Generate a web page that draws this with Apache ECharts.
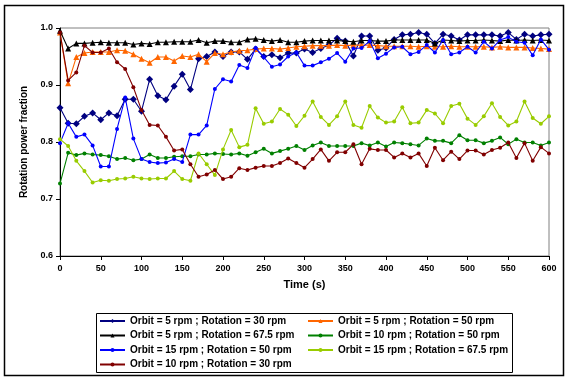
<!DOCTYPE html>
<html>
<head>
<meta charset="utf-8">
<script src="https://cdn.jsdelivr.net/npm/echarts@6/dist/echarts.min.js"></script>
<style>
html,body{margin:0;padding:0;background:#fff;}
#chart{width:566px;height:379px;}
</style>
</head>
<body>
<div id="chart"></div>
<script>
var times = [0,10,20,30,40,50,60,70,80,90,100,110,120,130,140,150,160,170,180,190,200,210,220,230,240,250,260,270,280,290,300,310,320,330,340,350,360,370,380,390,400,410,420,430,440,450,460,470,480,490,500,510,520,530,540,550,560,570,580,590,600];

var yTicks = [0.6, 0.7, 0.8, 0.9, 1.0];
var xTicks = [0, 50, 100, 150, 200, 250, 300, 350, 400, 450, 500, 550, 600];

var seriesNames = [
  "Orbit = 5 rpm ; Rotation = 30 rpm",
  "Orbit = 5 rpm ; Rotation = 50 rpm",
  "Orbit = 5 rpm ; Rotation = 67.5 rpm",
  "Orbit = 10 rpm ; Rotation = 50 rpm",
  "Orbit = 15 rpm ; Rotation = 50 rpm",
  "Orbit = 15 rpm ; Rotation = 67.5 rpm",
  "Orbit = 10 rpm ; Rotation = 30 rpm"
];

var o5r30 = [0.860,0.833,0.832,0.845,0.851,0.839,0.851,0.846,0.875,0.875,
  0.854,0.910,0.881,0.874,0.898,0.919,0.892,0.946,0.950,0.958,
  0.950,0.958,0.958,0.945,0.963,0.950,0.953,0.948,0.956,0.956,
  0.963,0.957,0.964,0.970,0.982,0.977,0.951,0.986,0.986,0.961,
  0.965,0.980,0.988,0.989,0.992,0.989,0.973,0.989,0.986,0.979,
  0.988,0.988,0.988,0.988,0.986,0.992,0.980,0.989,0.986,0.988,0.989];

var o5r50 = [0.992,0.903,0.949,0.956,0.958,0.958,0.958,0.961,0.960,0.954,
  0.946,0.939,0.949,0.949,0.942,0.951,0.949,0.954,0.941,0.956,
  0.954,0.958,0.960,0.961,0.963,0.964,0.964,0.963,0.965,0.967,
  0.968,0.969,0.969,0.969,0.970,0.969,0.970,0.970,0.970,0.969,
  0.968,0.968,0.968,0.968,0.967,0.968,0.967,0.967,0.968,0.967,
  0.967,0.967,0.967,0.966,0.967,0.966,0.966,0.966,0.965,0.964,0.963];

var o5r675 = [0.995,0.964,0.973,0.973,0.974,0.975,0.974,0.974,0.974,0.971,
  0.973,0.972,0.975,0.975,0.976,0.976,0.976,0.979,0.974,0.977,
  0.977,0.975,0.975,0.980,0.981,0.979,0.977,0.979,0.975,0.975,
  0.977,0.978,0.978,0.978,0.978,0.977,0.976,0.978,0.978,0.977,
  0.977,0.979,0.979,0.979,0.979,0.979,0.973,0.979,0.978,0.977,
  0.978,0.978,0.979,0.978,0.977,0.979,0.978,0.979,0.978,0.979,0.978];

var o10r50 = [0.727,0.781,0.777,0.780,0.778,0.777,0.775,0.770,0.772,0.768,
  0.770,0.778,0.772,0.772,0.774,0.775,0.775,0.778,0.778,0.780,
  0.779,0.778,0.780,0.776,0.782,0.788,0.780,0.784,0.788,0.793,
  0.786,0.794,0.799,0.793,0.793,0.793,0.793,0.798,0.794,0.799,
  0.792,0.799,0.798,0.796,0.794,0.806,0.802,0.802,0.798,0.812,
  0.803,0.803,0.798,0.802,0.808,0.796,0.805,0.799,0.799,0.794,0.799];

var o15r50 = [0.798,0.833,0.809,0.813,0.794,0.757,0.757,0.823,0.878,0.806,
  0.770,0.765,0.763,0.764,0.770,0.765,0.813,0.813,0.829,0.893,
  0.910,0.906,0.935,0.930,0.965,0.949,0.932,0.936,0.950,0.957,
  0.934,0.934,0.940,0.946,0.956,0.941,0.964,0.965,0.977,0.947,
  0.955,0.966,0.967,0.954,0.958,0.970,0.957,0.979,0.954,0.957,
  0.967,0.957,0.976,0.964,0.979,0.984,0.976,0.974,0.952,0.980,0.962];

var o15r675 = [0.805,0.793,0.767,0.749,0.729,0.733,0.732,0.735,0.736,0.739,
  0.736,0.735,0.736,0.736,0.749,0.735,0.732,0.780,0.761,0.742,
  0.787,0.821,0.791,0.795,0.859,0.832,0.836,0.858,0.848,0.828,
  0.846,0.871,0.844,0.830,0.845,0.871,0.830,0.825,0.863,0.843,
  0.834,0.836,0.861,0.833,0.834,0.856,0.850,0.833,0.863,0.867,
  0.841,0.830,0.845,0.868,0.844,0.829,0.836,0.871,0.842,0.832,0.845];

var o10r30 = [0.992,0.908,0.922,0.969,0.957,0.957,0.964,0.940,0.928,0.896,
  0.856,0.830,0.829,0.809,0.785,0.787,0.761,0.739,0.743,0.751,
  0.735,0.739,0.754,0.751,0.755,0.758,0.758,0.763,0.771,0.763,
  0.755,0.770,0.787,0.767,0.782,0.782,0.796,0.761,0.788,0.786,
  0.786,0.773,0.780,0.773,0.780,0.758,0.790,0.768,0.783,0.770,
  0.785,0.785,0.778,0.786,0.790,0.799,0.772,0.798,0.767,0.791,0.780];

var seriesValues = [o5r30, o5r50, o5r675, o10r50, o15r50, o15r675, o10r30];
var seriesColors = ["#000080", "#FF6600", "#000000", "#008000", "#0000FF", "#99CC00", "#800000"];
var seriesSymbols = ["diamond", "triangle", "triangle", "circle", "circle", "circle", "circle"];
var seriesSymbolSizes = [7, 6, 6, 4, 4, 4, 4];

var FONT = "'Liberation Sans', Arial, sans-serif";

function pairs(vals) {
  return times.map(function (t, i) { return [t, vals[i]]; });
}

var series = seriesNames.map(function (name, i) {
  return {
    name: name,
    type: 'line',
    data: pairs(seriesValues[i]),
    symbol: seriesSymbols[i],
    symbolSize: seriesSymbolSizes[i],
    showSymbol: true,
    showAllSymbol: true,
    color: seriesColors[i],
    lineStyle: { width: 1.1, color: seriesColors[i] },
    itemStyle: { color: seriesColors[i], borderWidth: 0 },
    emphasis: { disabled: true },
    z: 2 + i
  };
});

var legendBase = {
  orient: 'vertical',
  padding: 0,
  itemWidth: 25,
  itemHeight: 5,
  itemGap: 2.5,
  selectedMode: false,
  textStyle: { fontFamily: FONT, fontWeight: 'bold', fontSize: 10, color: '#000', lineHeight: 12 }
};

var chart = echarts.init(document.getElementById('chart'), null, { renderer: 'canvas' });
chart.setOption({
  animation: false,
  backgroundColor: '#fff',
  grid: {
    left: 60, top: 28, width: 489, height: 228,
    show: true, borderColor: '#808080', borderWidth: 1, backgroundColor: '#fff'
  },
  xAxis: {
    type: 'value',
    min: xTicks[0], max: xTicks[xTicks.length - 1], interval: 50,
    name: 'Time (s)',
    nameLocation: 'middle',
    nameGap: 23,
    nameTextStyle: { fontFamily: FONT, fontWeight: 'bold', fontSize: 11, color: '#000' },
    axisLine: { show: true, onZero: false, lineStyle: { color: '#000', width: 1 } },
    axisTick: { show: true, inside: false, length: 4, lineStyle: { color: '#000' } },
    axisLabel: { margin: 8, fontFamily: FONT, fontWeight: 'bold', fontSize: 9, color: '#000' },
    splitLine: { show: false }
  },
  yAxis: {
    type: 'value',
    min: yTicks[0], max: yTicks[yTicks.length - 1], interval: 0.1,
    name: 'Rotation power fraction',
    nameLocation: 'middle',
    nameGap: 27,
    nameTextStyle: { fontFamily: FONT, fontWeight: 'bold', fontSize: 10, color: '#000' },
    axisLine: { show: true, lineStyle: { color: '#000', width: 1 } },
    axisTick: { show: true, inside: false, length: 4, lineStyle: { color: '#000' } },
    axisLabel: {
      margin: 7, fontFamily: FONT, fontWeight: 'bold', fontSize: 9, color: '#000',
      formatter: function (v) { return v.toFixed(1); }
    },
    splitLine: { show: false }
  },
  legend: [
    Object.assign({}, legendBase, { left: 99, top: 315, data: [seriesNames[0], seriesNames[2], seriesNames[4], seriesNames[6]] }),
    Object.assign({}, legendBase, { left: 307, top: 315, data: [seriesNames[1], seriesNames[3], seriesNames[5]] })
  ],
  graphic: [
    { type: 'rect', shape: { x: 4.5, y: 5.5, width: 559, height: 370 }, style: { fill: null, stroke: '#000', lineWidth: 1.5 }, silent: true, z: 100 },
    { type: 'rect', shape: { x: 96.5, y: 313.5, width: 416, height: 59 }, style: { fill: null, stroke: '#000', lineWidth: 1 }, silent: true, z: 100 }
  ],
  series: series
});
</script>
</body>
</html>
